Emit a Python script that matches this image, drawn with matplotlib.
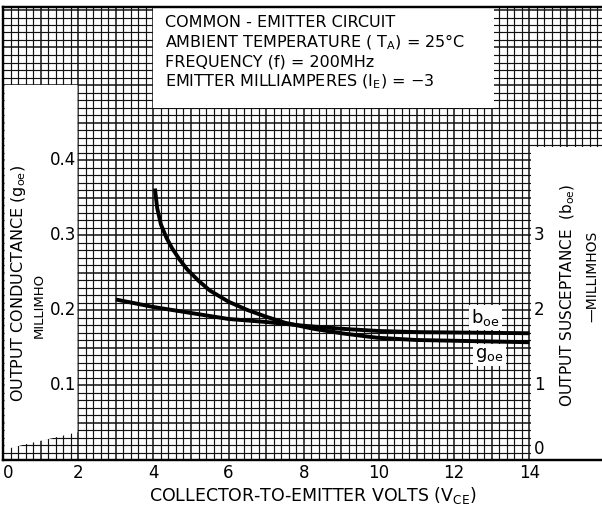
import matplotlib
matplotlib.use("Agg")
import matplotlib.pyplot as plt
import numpy as np
from matplotlib.patches import Rectangle, Polygon

plt.rcParams['font.family'] = ['DejaVu Sans']
plt.rcParams['mathtext.default'] = 'regular'

# output conductance g_oe (millimho, left scale)
goe_v = [4.04, 4.1, 4.2, 4.35, 4.5, 4.7, 4.9, 5.2, 5.5, 6.0, 6.5, 7.0, 7.5, 8.25, 9.0, 9.95, 11.0, 12.0, 13.0, 14.0]
goe = [0.362, 0.336, 0.314, 0.296, 0.282, 0.267, 0.254, 0.239, 0.226, 0.211, 0.200, 0.191, 0.183, 0.175, 0.169, 0.163, 0.160, 0.159, 0.158, 0.157]

# output susceptance b_oe (millimhos, right scale)
boe_v = [3, 4, 5, 6, 7, 8, 9, 10, 11, 12, 13, 14]
boe = [2.14, 2.04, 1.96, 1.88, 1.84, 1.79, 1.75, 1.72, 1.705, 1.70, 1.695, 1.69]

x_ticks = [0, 2, 4, 6, 8, 10, 12, 14]
left_ticks = [0.1, 0.2, 0.3, 0.4]
left_labels = ['0.1', '0.2', '0.3', '0.4']
right_ticks = [0, 1, 2, 3]
right_labels = ['0', '1', '2', '3']

conditions = ['COMMON - EMITTER CIRCUIT',
              'AMBIENT TEMPERATURE ( T$_A$) = 25°C',
              'FREQUENCY (f) = 200MHz',
              'EMITTER MILLIAMPERES (I$_E$) = \u22123']

xmax = 15.93
ymax = 0.604

fig = plt.figure(figsize=(6.02, 5.11), dpi=100)
ax = fig.add_axes([3/602, 51/511, 599/602, 453/511])
ax.set_xlim(0, xmax)
ax.set_ylim(0, ymax)

# graph paper grid
for i, xv in enumerate(np.arange(0, xmax, 0.2)):
    lw = 1.1 if i % 5 == 0 else 0.85
    ax.axvline(xv, color='#111111', lw=lw, zorder=1)
for i, yv in enumerate(np.arange(0, ymax, 0.01)):
    lw = 1.1 if i % 5 == 0 else 0.85
    ax.axhline(yv, color='#111111', lw=lw, zorder=1)

# white areas cut out of the grid
ax.add_patch(Rectangle((4.0, 0.47), 9.05, 0.2, fc='white', ec='none', zorder=2))
ax.add_patch(Rectangle((14.05, 0.002), 3, 0.416, fc='white', ec='none', zorder=2))
ax.add_patch(Polygon([(0.04, 0.5), (1.98, 0.5), (1.98, 0.037), (1.3, 0.029),
                      (0.6, 0.021), (0.04, 0.014)], closed=True,
                     fc='white', ec='none', zorder=2))

ax.plot(goe_v, goe, color='black', lw=2.8, solid_capstyle='butt', zorder=4)

ax2 = ax.twinx()
ax2.set_ylim(0, ymax * 10)
ax2.plot(boe_v, boe, color='black', lw=2.8, solid_capstyle='butt', zorder=4)

for a in (ax, ax2):
    a.set_yticks([])
    a.spines['right'].set_visible(False)
    for s in ('left', 'top', 'bottom'):
        a.spines[s].set_linewidth(1.6)

ax.set_xticks(x_ticks)
ax.set_xticklabels([str(t) for t in x_ticks], fontsize=12)
ax.tick_params(axis='x', length=0, pad=3)
ax.get_xticklabels()[0].set_ha('left')

for v, s in zip(left_ticks, left_labels):
    ax.text(1.95, v, s, ha='right', va='center', fontsize=12, zorder=5)
for v, s in zip(right_ticks, right_labels):
    ax2.text(14.12, max(v, 0.15), s, ha='left', va='center', fontsize=12, zorder=5)

for k, line in enumerate(conditions):
    ax.text(4.3, 0.584 - k * 0.0265, line, ha='left', va='center', fontsize=11.5, zorder=5)

ax.text(12.45, 0.19, 'b$_{oe}$', ha='left', va='center', fontsize=13, zorder=5,
        bbox=dict(fc='white', ec='none', pad=1.5))
ax.text(12.55, 0.14, 'g$_{oe}$', ha='left', va='center', fontsize=13, zorder=5,
        bbox=dict(fc='white', ec='none', pad=1.5))

fig.text(19/602, 1 - 283/511, 'OUTPUT CONDUCTANCE (g$_{oe}$)', rotation=90,
         ha='center', va='center', fontsize=11.5)
fig.text(39/602, 1 - 305/511, 'MILLIMHO', rotation=90, ha='center', va='center', fontsize=9.5)
fig.text(568/602, 1 - 295/511, 'OUTPUT SUSCEPTANCE  (b$_{oe}$)', rotation=90,
         ha='center', va='center', fontsize=11)
fig.text(592/602, 1 - 276/511, '\u2014MILLIMHOS', rotation=90, ha='center', va='center', fontsize=10)
fig.text(313/602, 1 - 496/511, 'COLLECTOR-TO-EMITTER VOLTS (V$_{CE}$)', ha='center',
         va='center', fontsize=12.5)

fig.savefig('out.png', dpi=100)
